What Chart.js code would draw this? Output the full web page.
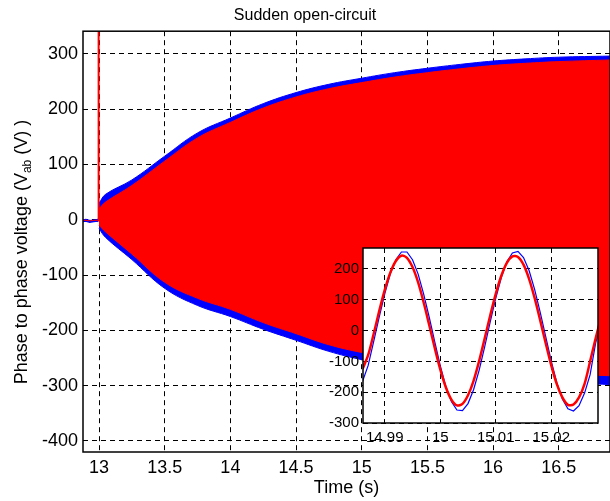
<!DOCTYPE html>
<html>
<head>
<meta charset="utf-8">
<script src="https://cdn.jsdelivr.net/npm/chart.js@4.4.1/dist/chart.umd.min.js"></script>
<style>
  html, body { margin: 0; padding: 0; background: #fff; }
  #wrap { position: relative; width: 610px; height: 501px; }
  #main { position: absolute; left: 0; top: 0; }
  #inset { position: absolute; left: 325px; top: 235px; }
</style>
</head>
<body>
<div id="wrap">
  <canvas id="main" width="610" height="501"></canvas>
  <canvas id="inset" width="285" height="215"></canvas>
</div>
<script>
/* ---------------- main plot data ---------------- */
const preTime = [12.87, 12.9, 12.93, 12.96, 12.99, 12.997];
const preBlue = [-2, -1, -3, -2, -1, -2];
const preRed = [-1, -1, -2, -1, -1, -1];

const spikeTime = [12.997, 12.997];
const spikeValue = [-3, 600];

const envTime = [13.0, 13.05, 13.25, 13.5, 13.75, 14.0, 14.25, 14.5, 14.75,
  15.0, 15.25, 15.5, 15.75, 16.0, 16.25, 16.5, 16.89];
const redUpper = [20, 32, 62, 106, 148, 176, 202, 222, 237, 248, 258, 266, 273, 279, 283, 286, 289];
const blueUpper = [30, 46, 72, 115, 157, 184, 210, 230, 245, 256, 266, 274, 281, 287, 291, 294, 296];
const redLower = [-10, -22, -62, -113, -142, -162, -186, -206, -226, -240, -250, -258, -265, -271, -275, -279, -282];
const blueLower = [-16, -32, -72, -124, -155, -175, -198, -218, -238, -253, -263, -272, -279, -285, -290, -294, -298];

const mainXTicks = [13, 13.5, 14, 14.5, 15, 15.5, 16, 16.5];
const mainYTicks = [-400, -300, -200, -100, 0, 100, 200, 300];

/* ---------------- inset data ---------------- */
const zoomTime = [14.986, 14.987, 14.988, 14.989, 14.99, 14.991, 14.992, 14.993, 14.994, 14.995,
  14.996, 14.997, 14.998, 14.999, 15.0, 15.001, 15.002, 15.003, 15.004, 15.005,
  15.006, 15.007, 15.008, 15.009, 15.01, 15.011, 15.012, 15.013, 15.014, 15.015,
  15.016, 15.017, 15.018, 15.019, 15.02, 15.021, 15.022, 15.023, 15.024, 15.025,
  15.026, 15.027, 15.028, 15.029];
const zoomRed = [-125, -80, -11, 63, 132, 188, 226, 243, 236, 206,
  157, 92, 19, -56, -126, -184, -224, -243, -238, -210,
  -163, -99, -26, 49, 119, 178, 220, 241, 239, 214,
  168, 106, 34, -41, -113, -174, -217, -241, -240, -217,
  -173, -100, -25, 45];
const zoomBlue = [-165, -114, -36, 44, 119, 184, 230, 255, 255, 230,
  184, 119, 44, -36, -114, -181, -230, -258, -260, -237,
  -192, -129, -53, 28, 105, 172, 223, 252, 257, 237,
  195, 134, 60, -20, -99, -169, -222, -254, -261, -244,
  -203, -143, -40, 30];

const zoomXTicks = [14.99, 15.0, 15.01, 15.02];
const zoomYTicks = [-300, -200, -100, 0, 100, 200];

/* ---------------- helpers ---------------- */
const FONT = "'Liberation Sans', Arial, sans-serif";
const pts = (xs, ys) => xs.map((x, i) => ({ x, y: ys[i] }));
const fixTicks = list => scale => { scale.ticks = list.map(v => ({ value: v })); };

const frame = {
  id: "frame",
  afterDraw(chart, args, opts) {
    const { ctx, chartArea: a } = chart;
    ctx.save();
    ctx.strokeStyle = "#000";
    ctx.lineWidth = opts.width || 1.5;
    ctx.strokeRect(a.left, a.top, a.right - a.left, a.bottom - a.top);
    ctx.restore();
  }
};

const yTitle = {
  id: "yTitle",
  afterDraw(chart) {
    const ctx = chart.ctx;
    const big = "18px " + FONT, small = "12px " + FONT;
    const p1 = "Phase to phase voltage (V", p2 = "ab", p3 = " (V) )";
    ctx.save();
    ctx.font = big;
    const w1 = ctx.measureText(p1).width, w3 = ctx.measureText(p3).width;
    ctx.font = small;
    const w2 = ctx.measureText(p2).width;
    const total = w1 + w2 + w3;
    ctx.translate(27, 252);
    ctx.rotate(-Math.PI / 2);
    ctx.fillStyle = "#000";
    ctx.textBaseline = "alphabetic";
    let x = -total / 2;
    ctx.font = big; ctx.fillText(p1, x, 0); x += w1;
    ctx.font = small; ctx.fillText(p2, x, 4); x += w2;
    ctx.font = big; ctx.fillText(p3, x, 0);
    ctx.restore();
  }
};

const whiteArea = {
  id: "whiteArea",
  beforeDraw(chart) {
    const { ctx, chartArea: a } = chart;
    ctx.save();
    ctx.fillStyle = "#fff";
    ctx.fillRect(a.left, a.top, a.right - a.left, a.bottom - a.top);
    ctx.restore();
  }
};

const gridStyle = { color: "#000", lineWidth: 1, drawTicks: false };
const borderStyle = { display: false, dash: [5, 4] };

/* ---------------- main chart ---------------- */
new Chart(document.getElementById("main"), {
  type: "line",
  data: {
    datasets: [
      { data: pts(spikeTime, spikeValue), borderColor: "#ff0000", borderWidth: 2, order: 0, clip: 0 },
      { data: pts(envTime, redUpper), borderColor: "#ff0000", backgroundColor: "#ff0000",
        borderWidth: 1, fill: 2, order: 2, tension: 0.4 },
      { data: pts(envTime, redLower), borderColor: "#ff0000", borderWidth: 1, order: 2,
        tension: 0.4 },
      { data: pts(envTime, blueUpper), borderColor: "#0000ff", backgroundColor: "#0000ff",
        borderWidth: 1, fill: 4, order: 3, tension: 0.4 },
      { data: pts(envTime, blueLower), borderColor: "#0000ff", borderWidth: 1, order: 3,
        tension: 0.4 },
      { data: pts(preTime, preBlue), borderColor: "#0000ff", borderWidth: 3, order: 4 },
      { data: pts(preTime, preRed), borderColor: "#ff0000", borderWidth: 1, order: 1 }
    ]
  },
  options: {
    responsive: false,
    animation: false,
    events: [],
    elements: { point: { radius: 0 }, line: { fill: false } },
    layout: { padding: { left: 0, right: 0, top: 0, bottom: 0 } },
    plugins: {
      legend: { display: false },
      tooltip: { enabled: false },
      title: {
        display: true,
        text: "Sudden open-circuit",
        color: "#000",
        font: { family: FONT, size: 16, weight: "normal" },
        padding: { top: 6, bottom: 6 }
      }
    },
    scales: {
      x: {
        type: "linear",
        min: 12.878,
        max: 16.89,
        afterBuildTicks: fixTicks(mainXTicks),
        afterFit: s => { s.height = 49; },
        grid: gridStyle,
        border: borderStyle,
        ticks: {
          color: "#000",
          padding: 5,
          maxRotation: 0,
          font: { family: FONT, size: 18 },
          callback: v => String(v)
        },
        title: {
          display: true,
          text: "Time (s)",
          color: "#000",
          font: { family: FONT, size: 18 },
          padding: { top: 0, bottom: 2 }
        }
      },
      y: {
        type: "linear",
        min: -420,
        max: 341,
        afterBuildTicks: fixTicks(mainYTicks),
        afterFit: s => { s.width = 83; },
        grid: gridStyle,
        border: borderStyle,
        ticks: {
          color: "#000",
          padding: 5,
          font: { family: FONT, size: 18 },
          callback: v => String(v)
        }
      }
    }
  },
  plugins: [frame, yTitle]
});

/* ---------------- inset chart ---------------- */
new Chart(document.getElementById("inset"), {
  type: "line",
  data: {
    datasets: [
      { data: pts(zoomTime, zoomRed), borderColor: "#ff0000", borderWidth: 2.5, order: 0,
        tension: 0.3 },
      { data: pts(zoomTime, zoomBlue), borderColor: "#0000ff", borderWidth: 1.2, order: 1 }
    ]
  },
  options: {
    responsive: false,
    animation: false,
    events: [],
    elements: { point: { radius: 0 }, line: { fill: false } },
    layout: { padding: { left: 0, right: 12, top: 8, bottom: 0 } },
    plugins: { legend: { display: false }, tooltip: { enabled: false } },
    scales: {
      x: {
        type: "linear",
        min: 14.98608,
        max: 15.02842,
        afterBuildTicks: fixTicks(zoomXTicks),
        afterFit: s => { s.height = 27; },
        grid: gridStyle,
        border: borderStyle,
        ticks: {
          color: "#000",
          padding: 6,
          maxRotation: 0,
          font: { family: FONT, size: 15 },
          callback: v => String(+v.toFixed(2))
        }
      },
      y: {
        type: "linear",
        min: -300,
        max: 268,
        afterBuildTicks: fixTicks(zoomYTicks),
        afterFit: s => { s.width = 38; },
        grid: gridStyle,
        border: borderStyle,
        ticks: {
          color: "#000",
          padding: 4,
          font: { family: FONT, size: 15 },
          callback: v => String(v)
        }
      }
    }
  },
  plugins: [whiteArea, frame]
});
</script>
</body>
</html>
